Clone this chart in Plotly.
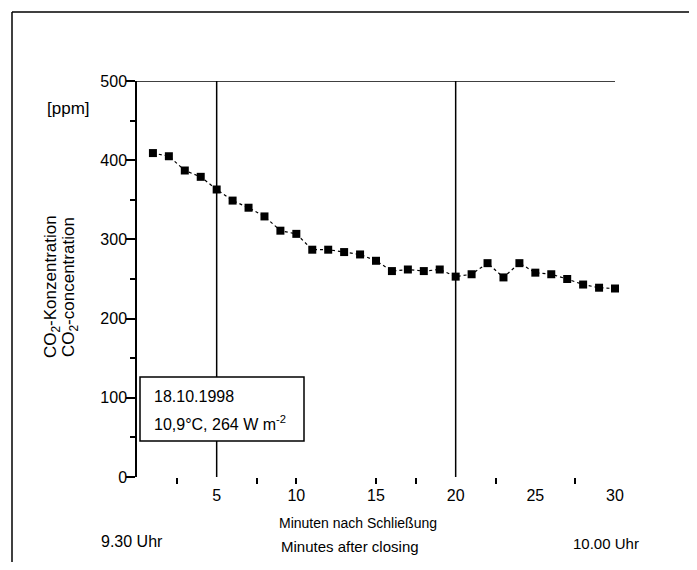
import plotly.graph_objects as go

minutes = list(range(1, 31))
co2_ppm = [409, 405, 387, 379, 363, 349, 340, 329, 311, 307,
           287, 287, 284, 281, 273, 260, 262, 260, 262, 253,
           256, 270, 252, 270, 258, 256, 250, 243, 239, 238]
x_tick_vals = [5, 10, 15, 20, 25, 30]
x_tick_text = ["5", "10", "15", "20", "25", "30"]
x_minor_vals = [2.5, 7.5, 10, 15, 17.5, 22.5, 27.5]
y_tick_vals = [0, 100, 200, 300, 400, 500]
marker_lines_x = [5, 20]

FONT = "Liberation Sans, Arial, sans-serif"

# page offset of the figure (body margin)
OFF = 8
W, H = 689, 554
# plot area in screenshot pixels: x 137..615, y 81..477
L, R, T, B = 137, 615, 81, 477
def px(x):
    return (x - L) / (R - L)
def py(y):
    return (B - y) / (B - T)

fig = go.Figure()
fig.add_trace(go.Scatter(
    x=minutes, y=co2_ppm, mode="lines+markers",
    line=dict(color="black", width=1.2, dash="dot"),
    marker=dict(symbol="square", size=8, color="black"),
    showlegend=False, cliponaxis=False,
))

shapes = []
shapes.append(dict(type="line", xref="x", yref="y", x0=0, x1=30, y0=500, y1=500,
                   line=dict(color="black", width=1.5)))
for xv in marker_lines_x:
    shapes.append(dict(type="line", xref="x", yref="y", x0=xv, x1=xv, y0=0, y1=500,
                       line=dict(color="black", width=1.5)))
shapes.append(dict(type="rect", xref="paper", yref="paper",
                   x0=px(140), x1=px(304), y0=py(441), y1=py(377),
                   fillcolor="white", line=dict(color="black", width=1.5), layer="above"))
fx0, fx1, fy0, fy1 = px(12), px(692), py(600), py(12)
for (a, b, c, d) in [(fx0, fy0, fx0, fy1), (fx0, fy1, fx1, fy1), (fx1, fy1, fx1, fy0)]:
    shapes.append(dict(type="line", xref="paper", yref="paper", x0=a, y0=b, x1=c, y1=d,
                       line=dict(color="black", width=1.5)))

ann = []
def add(text, x, y, xanchor="center", yanchor="middle", angle=0, size=14):
    ann.append(dict(text=text, xref="paper", yref="paper", x=px(x), y=py(y),
                    xanchor=xanchor, yanchor=yanchor, textangle=angle, showarrow=False,
                    font=dict(family=FONT, size=size, color="black")))

add("CO<sub>2</sub>-Konzentration", 52, 287, angle=-90, size=17)
add("CO<sub>2</sub>-concentration", 70, 287, angle=-90, size=17)
add("[ppm]", 68, 108, size=17)
add("Minuten nach Schließung", 358, 523, size=14)
add("Minutes after closing", 350, 546, size=15)
add("9.30 Uhr", 132, 541, size=16)
add("10.00 Uhr", 606, 543, size=15)
add("18.10.1998", 152, 396, xanchor="left", size=16)
add("10,9°C, 264 W m<sup>-2</sup>", 152, 423, xanchor="left", size=16)

fig.update_layout(
    width=W, height=H,
    margin=dict(l=L - OFF, r=W - (R - OFF), t=T - OFF, b=H - (B - OFF)),
    paper_bgcolor="white", plot_bgcolor="white",
    font=dict(family=FONT, size=16, color="black"),
    shapes=shapes, annotations=ann,
    xaxis=dict(range=[0, 30], showline=False, showgrid=False, zeroline=False,
               tickmode="array", tickvals=x_tick_vals, ticktext=x_tick_text,
               ticks="", ticklabelstandoff=7,
               tickfont=dict(family=FONT, size=16),
               minor=dict(tickvals=x_minor_vals, ticks="outside", ticklen=6,
                          tickcolor="black", tickwidth=1.5)),
    yaxis=dict(range=[0, 500], showline=True, linecolor="black", linewidth=1.5,
               showgrid=False, zeroline=False,
               tickmode="array", tickvals=y_tick_vals, ticks="outside", ticklen=9,
               tickcolor="black", tickwidth=1.5, ticklabelstandoff=-4,
               tickfont=dict(family=FONT, size=16),
               minor=dict(dtick=50, ticks="outside", ticklen=5,
                          tickcolor="black", tickwidth=1.5)),
)

fig.write_html("out.html")
